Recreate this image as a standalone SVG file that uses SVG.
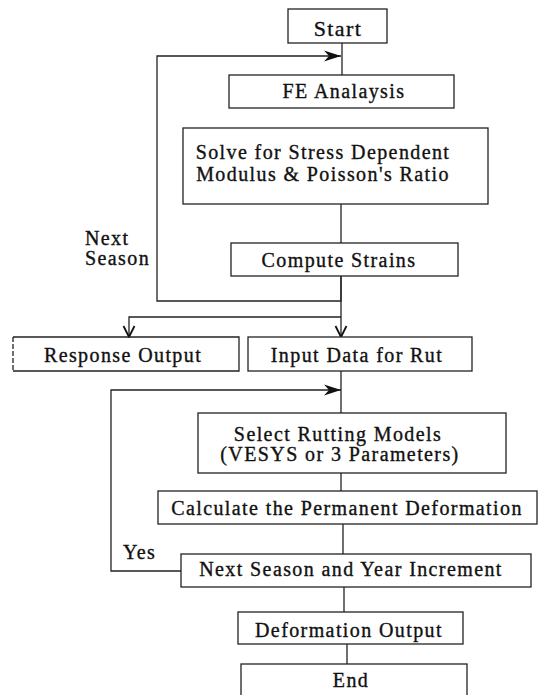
<svg xmlns="http://www.w3.org/2000/svg" width="541" height="695" viewBox="0 0 541 695">
  <style>
    .box { fill: #ffffff; stroke: #222222; stroke-width: 1.3; }
    .edge { fill: none; stroke: #222222; stroke-width: 1.3; }
    .lbl { font-family: "Liberation Serif", "Times New Roman", serif; font-size: 20px; letter-spacing: 1.4px; fill: #111111; stroke: #111111; stroke-width: 0.35; text-anchor: middle; }
    .side { text-anchor: start; }
  </style>
  <defs>
    <marker id="arrowSolid" viewBox="-18 -6 19 12" markerWidth="19" markerHeight="12" refX="0" refY="0" markerUnits="userSpaceOnUse" orient="auto">
      <path d="M0,0 L-17,-5.5 L-12,0 L-17,5.5 Z" fill="#111111"/>
    </marker>
    <marker id="arrowOpen" viewBox="-13 -7 14 14" markerWidth="14" markerHeight="14" refX="0" refY="0" markerUnits="userSpaceOnUse" orient="auto">
      <path d="M-11,-5.5 L0,0 L-11,5.5" fill="none" stroke="#111111" stroke-width="1.8"/>
    </marker>
  </defs>

  <!-- connectors -->
  <g id="connectors">
    <path class="edge" d="M342,43 V75"/>
    <path class="edge" d="M341,276 V301 H157 V56 H341" marker-end="url(#arrowSolid)"/>
    <path class="edge" d="M341,204 V243"/>
    <path class="edge" d="M341,276 V337" marker-end="url(#arrowOpen)"/>
    <path class="edge" d="M341,317 H129 V337" marker-end="url(#arrowOpen)"/>
    <path class="edge" d="M341,371 V413"/>
    <path class="edge" d="M181,571 H111 V390 H341" marker-end="url(#arrowSolid)"/>
    <path class="edge" d="M341,473 V491"/>
    <path class="edge" d="M343,524 V554"/>
    <path class="edge" d="M344,587 V612"/>
    <path class="edge" d="M347,644 V664"/>
  </g>

  <!-- loop labels -->
  <g id="label-next-season">
    <text class="lbl side" x="85" y="245">Next</text>
    <text class="lbl side" x="85" y="265">Season</text>
  </g>
  <g id="label-yes">
    <text class="lbl side" x="123" y="559">Yes</text>
  </g>

  <!-- process steps -->
  <g id="start">
    <rect class="box" x="288" y="9" width="99" height="34"/>
    <text class="lbl" x="338" y="36" style="font-size:22px">Start</text>
  </g>
  <g id="fe-analysis">
    <rect class="box" x="229" y="75" width="225" height="33"/>
    <text class="lbl" x="344" y="98">FE Analaysis</text>
  </g>
  <g id="solve-modulus">
    <rect class="box" x="183" y="128" width="305" height="76"/>
    <text class="lbl" x="323" y="159">Solve for Stress Dependent</text>
    <text class="lbl" x="323" y="181">Modulus &amp; Poisson's Ratio</text>
  </g>
  <g id="compute-strains">
    <rect class="box" x="231" y="243" width="227" height="33"/>
    <text class="lbl" x="339" y="267">Compute Strains</text>
  </g>
  <g id="response-output">
    <path class="edge" d="M13,337 H239 V371 H13"/>
    <path class="edge" d="M13,337 V371" stroke-dasharray="5 2"/>
    <text class="lbl" x="123" y="362">Response Output</text>
  </g>
  <g id="input-data">
    <rect class="box" x="248" y="337" width="224" height="34"/>
    <text class="lbl" x="357" y="362">Input Data for Rut</text>
  </g>
  <g id="select-models">
    <rect class="box" x="198" y="413" width="308" height="60"/>
    <text class="lbl" x="338" y="441">Select Rutting Models</text>
    <text class="lbl" x="340" y="461">(VESYS or 3 Parameters)</text>
  </g>
  <g id="permanent-deformation">
    <rect class="box" x="158" y="491" width="379" height="33"/>
    <text class="lbl" x="347" y="515">Calculate the Permanent Deformation</text>
  </g>
  <g id="next-increment">
    <rect class="box" x="181" y="554" width="350" height="33"/>
    <text class="lbl" x="351" y="576">Next Season and Year Increment</text>
  </g>
  <g id="deformation-output">
    <rect class="box" x="238" y="612" width="225" height="32"/>
    <text class="lbl" x="349" y="637">Deformation Output</text>
  </g>
  <g id="end">
    <rect class="box" x="241" y="664" width="226" height="40"/>
    <text class="lbl" x="351" y="687">End</text>
  </g>
</svg>
